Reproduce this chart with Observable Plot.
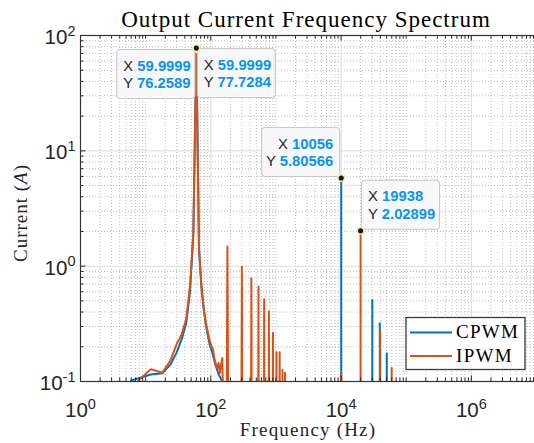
<!DOCTYPE html>
<html><head><meta charset="utf-8">
<script src="https://cdn.jsdelivr.net/npm/d3@7"></script>
<script src="https://cdn.jsdelivr.net/npm/@observablehq/plot@0.6"></script>
<style>
html,body{margin:0;padding:0;background:#fff;overflow:hidden;width:534px;height:443px}
#chart{position:relative;width:537px;height:443px}
svg{display:block}
</style></head><body><div id="chart"></div>
<script>
// ---- text ----
const titleText = "Output Current Frequency Spectrum";
const xLabelText = "Frequency (Hz)";
const yLabelMain = "Current (";
const yLabelUnit = "A";
const seriesNames = ["CPWM", "IPWM"];
const seriesColors = ["#0072BD", "#D95319"];

// ---- data (Hz, A) ----
const cpwmFreq = [6,12,18,24,30,36,42,48,54,60,66,72,78,84,90,96,102,108,114,120,126,132,138,144,150,156,162,
  10050,10056,10062, 30162,30168,30174, 39294,39300,39306, 50274,50280,50286];
const cpwmAmp = [0.102,0.115,0.118,0.14,0.179,0.235,0.32,0.6,1.9,76.2589,1.35,0.64,0.42,0.31,0.25,0.21,0.19,0.17,0.15,0.135,0.125,0.115,0.11,0.105,0.1,0.06,0.03,
  0.03,5.80566,0.03, 0.03,0.51,0.03, 0.03,0.32,0.03, 0.03,0.175,0.03];

const ipwmFreq = [6,12,18,24,30,36,42,48,54,60,66,72,78,84,90,96,102,108,114,120,126,132,138,144,150,156,162,
  174,180,186, 294,300,306, 414,420,426, 534,540,546, 654,660,666, 774,780,786, 894,900,906,
  1014,1020,1026, 1134,1140,1146, 1254,1260,1266, 1374,1380,1386,
  10050,10056,10062, 19932,19938,19944, 39870,39876,39882, 59808,59814,59820];
const ipwmAmp = [0.089,0.128,0.119,0.152,0.212,0.259,0.35,0.68,2.0,77.7284,1.45,0.68,0.43,0.325,0.27,0.226,0.205,0.19,0.157,0.142,0.13,0.145,0.118,0.14,0.16,0.06,0.03,
  0.03,1.48,0.03, 0.03,0.99,0.03, 0.03,0.785,0.03, 0.03,0.665,0.03, 0.03,0.516,0.03, 0.03,0.407,0.03, 0.03,0.265,0.03,
  0.03,0.179,0.03, 0.03,0.179,0.03, 0.03,0.126,0.03, 0.03,0.119,0.03,
  0.03,0.12,0.03, 0.03,2.02899,0.03, 0.03,0.28,0.03, 0.03,0.131,0.03];

// ---- ticks ----
const xTickValues = [1, 100, 1e4, 1e6];
const xTickLabels = ["10^0", "10^2", "10^4", "10^6"];
const yTickValues = [0.1, 1, 10, 100];
const yTickLabels = ["10^-1", "10^0", "10^1", "10^2"];

// ---- data tips ----
const tipFreq = [59.9999, 59.9999, 10056, 19938];
const tipAmp = [76.2589, 77.7284, 5.80566, 2.02899];
const tipXText = ["59.9999", "59.9999", "10056", "19938"];
const tipYText = ["76.2589", "77.7284", "5.80566", "2.02899"];

// ---- layout ----
const W = 537, H = 443, ML = 80, MR = 1, MT = 35, MB = 62;
const plotW = W - ML - MR, plotH = H - MT - MB;

const cpwm = cpwmFreq.map((f, i) => ({f, a: cpwmAmp[i]}));
const ipwm = ipwmFreq.map((f, i) => ({f, a: ipwmAmp[i]}));
const tips = tipFreq.map((f, i) => ({f, a: tipAmp[i], xs: tipXText[i], ys: tipYText[i]}));

const minorX = [];
for (let e = 0; e < 7; e++) for (let m = 2; m <= 9; m++) minorX.push(m * Math.pow(10, e));
const oddDecX = [10, 1e3, 1e5, 1e7];
const minorY = [];
for (let e = -1; e < 2; e++) for (let m = 2; m <= 9; m++) minorY.push(m * Math.pow(10, e));

const axisCol = "#262626";
const chart = Plot.plot({
  width: W, height: H, marginLeft: ML, marginRight: MR, marginTop: MT, marginBottom: MB,
  x: {type: "log", domain: [1, 1e7]},
  y: {type: "log", domain: [0.1, 100]},
  style: {fontFamily: "'Liberation Sans', Arial, sans-serif", fontSize: "20.5px", color: axisCol, background: "white", overflow: "visible"},
  marks: [
    Plot.ruleX(minorX.concat(oddDecX), {stroke: "#b4b4b4", strokeDasharray: "1,2", strokeWidth: 0.9}),
    Plot.ruleY(minorY, {stroke: "#b4b4b4", strokeDasharray: "1,2", strokeWidth: 0.9}),
    Plot.ruleX(xTickValues, {stroke: "#dcdcdc", strokeWidth: 1}),
    Plot.ruleY(yTickValues, {stroke: "#dcdcdc", strokeWidth: 1}),
    Plot.line(cpwm, {x: "f", y: "a", stroke: seriesColors[0], strokeWidth: 2, clip: true}),
    Plot.line(ipwm, {x: "f", y: "a", stroke: seriesColors[1], strokeWidth: 2, clip: true}),
    // inward ticks
    Plot.ruleX(xTickValues, {insetTop: plotH - 5.5, stroke: axisCol}),
    Plot.ruleX(xTickValues, {insetBottom: plotH - 5.5, stroke: axisCol}),
    Plot.ruleX(minorX.concat(oddDecX), {insetTop: plotH - 3.5, stroke: axisCol}),
    Plot.ruleX(minorX.concat(oddDecX), {insetBottom: plotH - 3.5, stroke: axisCol}),
    Plot.ruleY(yTickValues, {insetRight: plotW - 5.5, stroke: axisCol}),
    Plot.ruleY(minorY, {insetRight: plotW - 3.5, stroke: axisCol}),
    Plot.axisX(xTickValues, {anchor: "bottom", tickSize: 0, tickPadding: 21, label: null,
      tickFormat: (d) => xTickLabels[xTickValues.indexOf(d)]}),
    Plot.axisY(yTickValues, {anchor: "left", tickSize: 0, tickPadding: 5, label: null, dy: 2,
      tickFormat: (d) => yTickLabels[yTickValues.indexOf(d)]}),
    Plot.frame({stroke: "#333", strokeWidth: 1.2}),
    Plot.dot(tips, {x: "f", y: "a", r: 3.3, fill: "#151515", stroke: "#f4efa8", strokeWidth: 1.5})
  ]
});
document.getElementById("chart").appendChild(chart);
const svg = d3.select(chart);

// superscript tick labels
svg.selectAll('g[aria-label="x-axis tick label"] text, g[aria-label="y-axis tick label"] text').each(function () {
  const t = d3.select(this);
  const s = t.text();
  const parts = s.split("^");
  if (parts.length !== 2) return;
  t.text("");
  t.append("tspan").text(parts[0]);
  t.append("tspan").attr("dy", -8.5).attr("font-size", "14.5px").text(parts[1]);
});

// title & axis labels
const serif = "'Liberation Serif', 'Times New Roman', serif";
svg.append("text").attr("x", 306).attr("y", 27).attr("text-anchor", "middle")
  .attr("font-family", serif).attr("font-size", 23).attr("letter-spacing", 1).attr("fill", "#000")
  .text(titleText);
svg.append("text").attr("x", 308).attr("y", 436).attr("text-anchor", "middle")
  .attr("font-family", serif).attr("font-size", 19).attr("letter-spacing", 1.2).attr("fill", axisCol)
  .text(xLabelText);
const yl = svg.append("text").attr("transform", "translate(27,213) rotate(-90)").attr("text-anchor", "middle")
  .attr("font-family", serif).attr("font-size", 19).attr("letter-spacing", 1).attr("fill", axisCol);
yl.append("tspan").text(yLabelMain);
yl.append("tspan").attr("font-style", "italic").text(yLabelUnit);
yl.append("tspan").text(")");

// data tip boxes
const sx = chart.scale("x"), sy = chart.scale("y");
const tipLayout = [
  {h: "left", v: "below", align: "start"},
  {h: "right", v: "below", align: "start"},
  {h: "left", v: "above", align: "end"},
  {h: "right", v: "above", align: "start"}
];
const bw = 78, bh = 49;
const tipG = svg.append("g");
tips.forEach((d, i) => {
  const L = tipLayout[i];
  const px = sx.apply(d.f), py = sy.apply(d.a);
  const x0 = L.h === "left" ? px - 1 - bw : px + 1.5;
  const y0 = L.v === "below" ? py + 1 : py - 1 - bh;
  tipG.append("rect").attr("x", x0).attr("y", y0).attr("width", bw).attr("height", bh).attr("rx", 3)
    .attr("fill", "#f8f8fb").attr("stroke", "#c4c4c8").attr("stroke-width", 1);
  [["X", d.xs, 21], ["Y", d.ys, 38.5]].forEach(([lab, val, off]) => {
    const tx = L.align === "start" ? x0 + 6.5 : x0 + bw - 6.5;
    const t = tipG.append("text").attr("x", tx).attr("y", y0 + off).attr("text-anchor", L.align)
      .attr("font-family", "'Liberation Sans', Arial, sans-serif").attr("font-size", 14.8);
    t.append("tspan").attr("fill", "#262626").text(lab + " ");
    t.append("tspan").attr("fill", "#0a94ee").attr("font-weight", "bold").text(val);
  });
});
svg.selectAll('g[aria-label="dot"]').raise();

// legend
const lg = svg.append("g");
lg.append("rect").attr("x", 406).attr("y", 317.5).attr("width", 119).attr("height", 52)
  .attr("fill", "#fff").attr("stroke", "#3a3a3a").attr("stroke-width", 1.3);
seriesNames.forEach((n, i) => {
  const yy = 332.5 + i * 23.5;
  lg.append("line").attr("x1", 410).attr("x2", 452).attr("y1", yy).attr("y2", yy)
    .attr("stroke", seriesColors[i]).attr("stroke-width", 2);
  lg.append("text").attr("x", 456).attr("y", yy + 5.5).attr("text-anchor", "start")
    .attr("font-family", serif).attr("font-size", 19)
    .attr("letter-spacing", 1.3).attr("fill", "#000").text(n);
});
</script>
</body></html>
